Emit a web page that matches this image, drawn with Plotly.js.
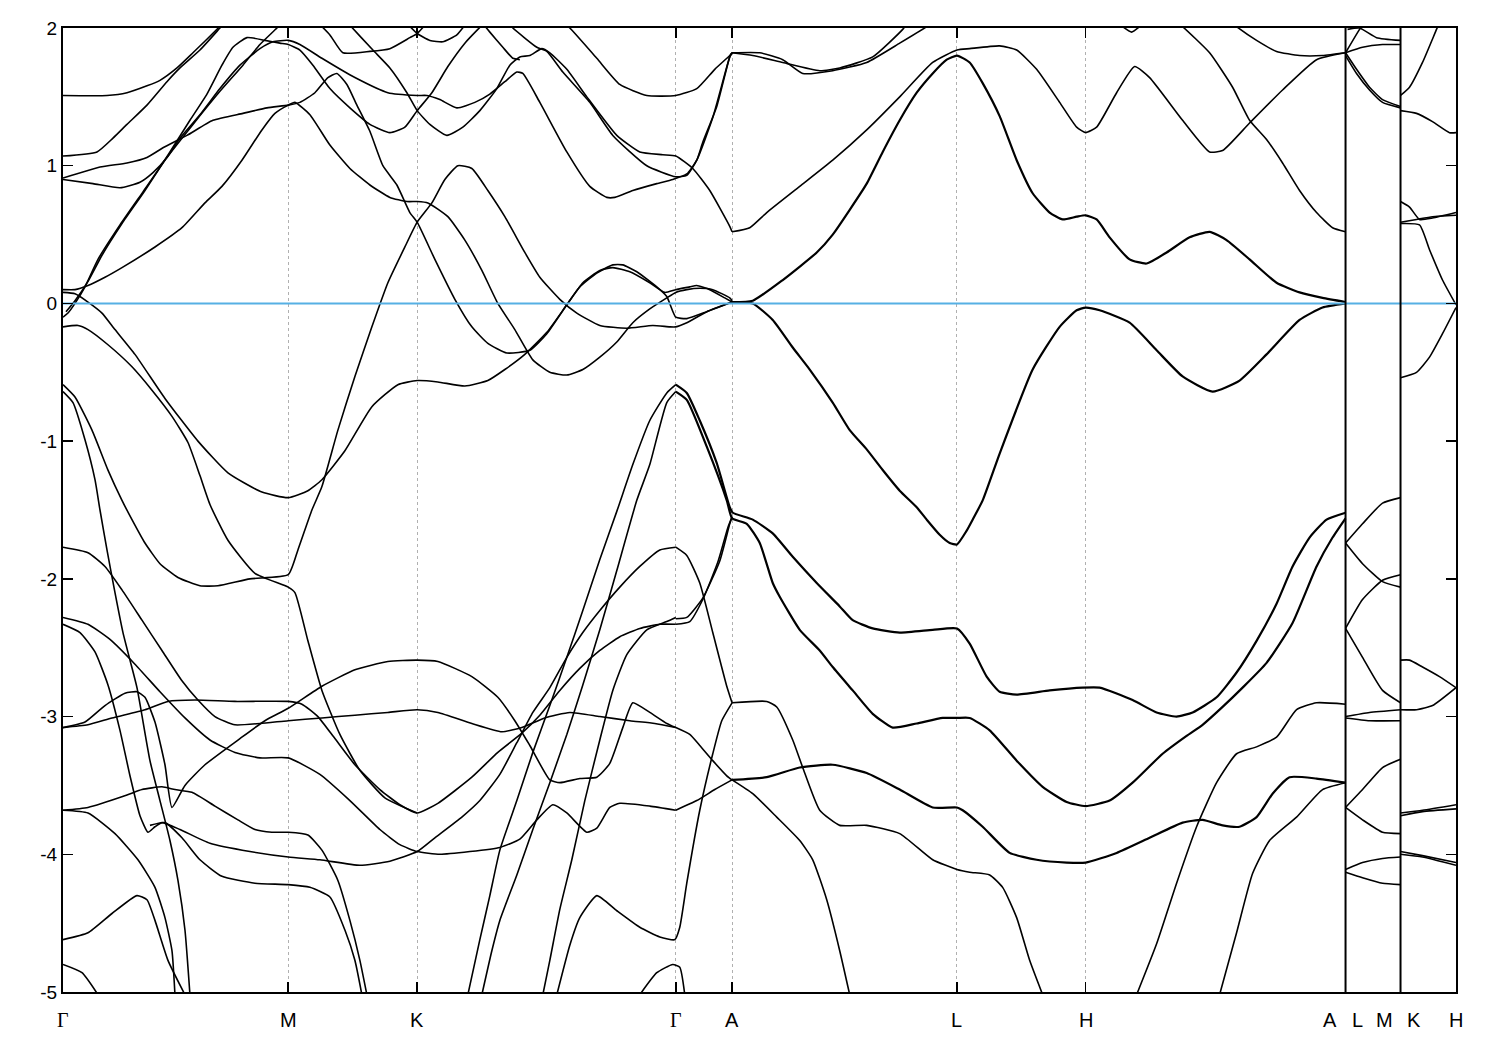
<!DOCTYPE html>
<html><head><meta charset="utf-8">
<script src="https://cdn.plot.ly/plotly-3.0.1.min.js"></script>
<style>body{margin:0;background:#fff}#plot{width:1500px;height:1050px}</style>
</head><body><div id="plot"></div>
<script>
// high-symmetry positions along the k-path
const kSym = [0, 2.253, 3.543, 6.13, 6.693, 8.943, 10.23, 12.83, 13.38, 13.935];
const gridK = [2.253, 3.543, 6.13, 6.693, 8.943, 10.23];
const breakK = [12.83, 13.38];
const xLabels = ['Γ','M','K','Γ','A','L','H','A','L','M','K','H'];
const xLabelPos = [0, 2.253, 3.543, 6.13, 6.693, 8.943, 10.23, 12.67, 12.95, 13.22, 13.51, 13.935];
const yTickVals = [-5,-4,-3,-2,-1,0,1,2];
const yTickText = ['-5','-4','-3','-2','-1','0','1','2'];
const fermi = 0;

// bands: [k, E(eV)]
const bGMa = [[0,1.51],[0.44,1.51],[0.64,1.53],[0.84,1.58],[0.97,1.62],[1.14,1.71],[1.30,1.82],[1.54,1.99],[1.61,2.04]];
const bGMb = [[0,1.07],[0.34,1.10],[0.50,1.20],[0.64,1.30],[0.84,1.44],[1.04,1.61],[1.17,1.71],[1.37,1.84],[1.57,2.00],[1.62,2.04]];
const bGMc = [[0,0.91],[0.37,0.99],[0.64,1.02],[0.84,1.06],[1.00,1.13],[1.24,1.22],[1.50,1.33],[1.80,1.38],[2.04,1.42],[2.253,1.44],
  [2.37,1.46],[2.52,1.53],[2.65,1.64],[2.74,1.67],[2.84,1.59],[2.94,1.44],[3.07,1.25],[3.20,1.00],[3.34,0.86],[3.47,0.66],[3.543,0.59],
  [3.72,0.32],[3.92,0.03],[4.09,-0.17],[4.25,-0.29],[4.44,-0.36],[4.67,-0.34],[4.84,-0.22],[5.04,-0.01],[5.17,0.12],[5.34,0.22],[5.50,0.28],[5.60,0.28],[5.74,0.23],[5.94,0.12],[6.04,0.05],[6.13,-0.10],
  [6.24,-0.11],[6.44,-0.06],[6.693,0.01]];
const bGMd = [[0,0.90],[0.30,0.87],[0.57,0.84],[0.77,0.88],[0.90,0.95],[1.04,1.06],[1.17,1.20],[1.37,1.37],[1.57,1.56],[1.77,1.73],[1.97,1.85],[2.10,1.90],[2.253,1.91],
  [2.37,1.88],[2.59,1.78],[2.92,1.64],[3.25,1.53],[3.543,1.51],[3.64,1.51],[3.77,1.48],[3.94,1.42],[4.12,1.46],[4.27,1.52],[4.42,1.61],[4.54,1.68],[4.60,1.67],
  [4.77,1.46],[5.04,1.10],[5.27,0.85],[5.44,0.77],[5.52,0.77],[5.70,0.82],[5.94,0.87],[6.10,0.90],[6.24,0.94],[6.34,1.04],[6.50,1.35],[6.67,1.79],[6.693,1.82]];
const bGMe = [[0,-0.10],[0.05,-0.07],[0.12,0.00],[0.22,0.12],[0.35,0.32],[0.57,0.57],[0.80,0.81],[1.04,1.06],[1.30,1.30],[1.57,1.54],[1.80,1.73],[1.97,1.88],[2.14,2.00],[2.19,2.04]];
const bGMf = [[0.03,-0.06],[0.12,0.02],[0.25,0.16],[0.39,0.35],[0.59,0.58],[0.82,0.82],[1.07,1.10],[1.27,1.33],[1.44,1.52],[1.59,1.73],[1.70,1.86],[1.84,1.93],[2.02,1.91],[2.17,1.89],[2.253,1.88],
  [2.37,1.84],[2.50,1.73],[2.67,1.56],[2.87,1.42],[3.07,1.30],[3.27,1.24],[3.42,1.28],[3.543,1.40],[3.69,1.53],[3.85,1.72],[4.02,1.89],[4.15,1.99],[4.22,2.04]];
const bGMg = [[0,0.10],[0.12,0.10],[0.25,0.13],[0.42,0.19],[0.59,0.26],[0.92,0.41],[1.19,0.55],[1.42,0.73],[1.59,0.85],[1.79,1.04],[1.99,1.26],[2.12,1.38],[2.253,1.44],
  [2.32,1.46],[2.47,1.37],[2.67,1.15],[2.87,0.98],[3.07,0.86],[3.27,0.77],[3.44,0.74],[3.543,0.74],
  [3.65,0.73],[3.85,0.63],[4.02,0.46],[4.19,0.24],[4.35,0.00],[4.52,-0.19],[4.70,-0.41],[4.87,-0.50],[5.04,-0.52],[5.20,-0.48],[5.37,-0.39],[5.54,-0.28],[5.70,-0.14],[5.87,-0.04],[6.04,0.04],[6.13,0.08],
  [6.24,0.10],[6.37,0.11],[6.50,0.10],[6.67,0.04],[6.693,0.02]];
const bGMh = [[0,0.08],[0.12,0.07],[0.25,0.01],[0.39,-0.07],[0.52,-0.19],[0.72,-0.37],[1.02,-0.69],[1.35,-1.00],[1.65,-1.23],[1.99,-1.37],[2.253,-1.41],
  [2.45,-1.36],[2.59,-1.28],[2.82,-1.07],[3.09,-0.75],[3.35,-0.59],[3.543,-0.56],
  [3.75,-0.57],[4.02,-0.60],[4.25,-0.56],[4.42,-0.48],[4.62,-0.37],[4.84,-0.21],[5.04,-0.01],[5.20,0.15],[5.37,0.24],[5.50,0.26],[5.67,0.23],[5.87,0.15],[6.02,0.08],[6.13,0.10],
  [6.27,0.12],[6.34,0.13],[6.47,0.10],[6.62,0.04],[6.693,0.01]];
const bGMi = [[0,-0.17],[0.15,-0.16],[0.25,-0.19],[0.45,-0.30],[0.69,-0.46],[0.89,-0.63],[1.09,-0.82],[1.25,-1.01],[1.37,-1.25],[1.47,-1.46],[1.65,-1.72],[1.92,-1.96],[2.253,-2.06],
  [2.32,-2.10],[2.45,-2.45],[2.59,-2.81],[2.77,-3.13],[2.97,-3.39],[3.22,-3.59],[3.543,-3.70]];
const bGMj = [[0,-0.59],[0.12,-0.68],[0.29,-0.92],[0.45,-1.21],[0.59,-1.43],[0.69,-1.57],[0.82,-1.74],[0.97,-1.89],[1.15,-1.99],[1.37,-2.05],[1.55,-2.05],[1.87,-2.00],[2.253,-1.97],
  [2.35,-1.79],[2.49,-1.50],[2.59,-1.33],[2.75,-0.92],[2.92,-0.53],[3.09,-0.17],[3.25,0.15],[3.42,0.41],[3.543,0.59],
  [3.69,0.73],[3.82,0.90],[3.95,1.00],[4.09,0.98],[4.25,0.82],[4.42,0.63],[4.62,0.37],[4.77,0.19],[4.97,0.03],[5.14,-0.07],[5.37,-0.16],[5.64,-0.18],[5.90,-0.16],[6.07,-0.17],[6.13,-0.17],
  [6.24,-0.14],[6.44,-0.06],[6.693,0.01]];
const bGMk = [[0,-0.64],[0.10,-0.72],[0.22,-0.99],[0.32,-1.28],[0.37,-1.50],[0.44,-1.79],[0.52,-2.10],[0.60,-2.39],[0.67,-2.59],[0.74,-2.79],[0.87,-3.32],[0.97,-3.61],[1.07,-3.90],[1.15,-4.19],[1.22,-4.55],[1.27,-5.02]];
const bLG1 = [[0,-1.77],[0.25,-1.81],[0.42,-1.91],[0.59,-2.08],[0.79,-2.30],[0.99,-2.52],[1.19,-2.74],[1.35,-2.88],[1.52,-3.00],[1.72,-3.06],[1.97,-3.05],[2.253,-3.03],
  [2.59,-3.01],[2.92,-2.99],[3.25,-2.97],[3.543,-2.95],[3.75,-2.97],[4.09,-3.05],[4.39,-3.11],[4.59,-3.08],[4.82,-3.01],[5.07,-2.97],[5.37,-3.00],[5.67,-3.03],[5.92,-3.05],[6.13,-3.08]];
const bLG2 = [[0,-2.28],[0.25,-2.33],[0.47,-2.44],[0.72,-2.62],[0.97,-2.82],[1.22,-3.01],[1.47,-3.17],[1.72,-3.26],[1.97,-3.30],[2.253,-3.30],
  [2.57,-3.42],[2.87,-3.61],[3.17,-3.82],[3.37,-3.93],[3.543,-3.98],
  [3.77,-4.00],[4.07,-3.98],[4.37,-3.95],[4.57,-3.89],[4.74,-3.75],[4.90,-3.64],[5.04,-3.70],[5.24,-3.84],[5.34,-3.81],[5.47,-3.66],[5.57,-3.63],[5.87,-3.65],[6.13,-3.68]];
const bLG3 = [[0,-2.33],[0.17,-2.39],[0.32,-2.53],[0.45,-2.77],[0.57,-3.10],[0.67,-3.43],[0.77,-3.72],[0.85,-3.84],[0.92,-3.80],[0.99,-3.77],[1.17,-3.82],[1.47,-3.92],[1.87,-3.98],[2.253,-4.02],
  [2.57,-4.04],[2.97,-4.08],[3.27,-4.05],[3.543,-3.98],
  [3.72,-3.88],[3.99,-3.73],[4.17,-3.61],[4.37,-3.42],[4.54,-3.19],[4.70,-2.97],[4.87,-2.79],[5.04,-2.57],[5.20,-2.39],[5.37,-2.23],[5.57,-2.06],[5.77,-1.91],[5.97,-1.79],[6.13,-1.77]];
const bLG4 = [[0,-3.08],[0.22,-3.04],[0.42,-2.92],[0.62,-2.83],[0.74,-2.82],[0.82,-2.86],[0.92,-3.04],[1.02,-3.35],[1.09,-3.66],[1.22,-3.50],[1.42,-3.35],[1.77,-3.16],[2.02,-3.03],[2.253,-2.94],
  [2.59,-2.78],[2.92,-2.66],[3.25,-2.60],[3.543,-2.59],[3.75,-2.60],[4.09,-2.71],[4.35,-2.86],[4.52,-3.03],[4.67,-3.21],[4.87,-3.46],[4.97,-3.48],[5.17,-3.45],[5.34,-3.44],[5.47,-3.34],[5.60,-3.08],[5.70,-2.90],[5.87,-2.97],[6.04,-3.05],[6.13,-3.08]];
const bLG5 = [[0,-3.08],[0.25,-3.06],[0.49,-3.01],[0.82,-2.95],[1.05,-2.89],[1.32,-2.88],[1.72,-2.89],[2.253,-2.89],
  [2.39,-2.91],[2.55,-3.00],[2.72,-3.16],[2.92,-3.35],[3.17,-3.53],[3.37,-3.64],[3.543,-3.70],
  [3.75,-3.63],[4.09,-3.44],[4.35,-3.26],[4.59,-3.12],[4.77,-2.99],[4.97,-2.81],[5.17,-2.65],[5.37,-2.52],[5.57,-2.42],[5.77,-2.36],[5.97,-2.33],[6.13,-2.33]];
const bLG7 = [[0,-3.68],[0.25,-3.66],[0.64,-3.57],[0.79,-3.53],[0.99,-3.51],[1.12,-3.53],[1.29,-3.55],[1.52,-3.65],[1.75,-3.75],[1.92,-3.82],[2.09,-3.84],[2.253,-3.84],
  [2.45,-3.86],[2.59,-3.97],[2.75,-4.19],[2.87,-4.48],[2.97,-4.77],[3.04,-5.02]];
const bLG8 = [[0,-3.68],[0.25,-3.70],[0.52,-3.85],[0.75,-4.04],[0.92,-4.24],[1.02,-4.46],[1.09,-4.70],[1.12,-5.02]];
const bLG9 = [[0,-4.62],[0.25,-4.57],[0.49,-4.43],[0.74,-4.30],[0.84,-4.33],[0.92,-4.48],[1.05,-4.77],[1.22,-5.02]];
const bLG10 = [[0,-4.80],[0.19,-4.86],[0.35,-5.02]];
const bLG11 = [[0.87,-3.79],[1.02,-3.77],[1.19,-3.88],[1.37,-4.04],[1.59,-4.16],[1.92,-4.21],[2.253,-4.22],[2.47,-4.24],[2.67,-4.31],[2.82,-4.55],[2.92,-4.77],[2.99,-5.02]];
const bSGa = [[4.05,-5.02],[4.17,-4.62],[4.27,-4.30],[4.37,-3.97],[4.54,-3.61],[4.70,-3.26],[4.87,-2.92],[5.04,-2.57],[5.20,-2.23],[5.37,-1.86],[5.54,-1.51],[5.70,-1.17],[5.87,-0.85],[6.04,-0.65],[6.13,-0.59]];
const bSGb = [[4.19,-5.02],[4.29,-4.70],[4.37,-4.48],[4.54,-4.15],[4.70,-3.82],[4.87,-3.48],[5.04,-3.13],[5.20,-2.77],[5.37,-2.37],[5.54,-1.94],[5.74,-1.43],[5.87,-1.17],[6.04,-0.72],[6.13,-0.64]];
const bSGc = [[4.80,-5.02],[4.87,-4.77],[4.97,-4.40],[5.09,-4.04],[5.22,-3.61],[5.37,-3.17],[5.50,-2.81],[5.64,-2.55],[5.84,-2.37],[6.04,-2.31],[6.13,-2.28]];
const bSGpk = [[4.94,-5.02],[5.07,-4.66],[5.17,-4.46],[5.34,-4.30],[5.54,-4.41],[5.77,-4.53],[5.97,-4.60],[6.12,-4.62],[6.17,-4.53],[6.24,-4.21],[6.37,-3.68],[6.50,-3.27],[6.59,-3.03],[6.693,-2.90]];
const bSGlow = [[5.77,-5.02],[5.94,-4.86],[6.10,-4.80],[6.17,-4.82],[6.22,-5.02]];
const bGA3 = [[6.13,-3.08],[6.27,-3.13],[6.37,-3.21],[6.50,-3.32],[6.64,-3.43],[6.693,-3.46]];
const bGA4 = [[6.13,-3.68],[6.34,-3.61],[6.52,-3.53],[6.693,-3.46]];
const bTopA1 = [[2.55,2.04],[2.67,1.95],[2.80,1.82],[3.07,1.83],[3.27,1.85],[3.47,1.93],[3.543,1.96],[3.62,2.02],[3.66,2.05]];
const bTopA2 = [[3.42,2.05],[3.543,1.96],[3.67,1.91],[3.80,1.90],[3.94,1.95],[4.02,2.02],[4.06,2.05]];
const bXtop = [[2.82,2.06],[2.87,2.02],[3.10,1.84],[3.27,1.71],[3.44,1.53],[3.543,1.40],[3.67,1.30],[3.84,1.22],[4.00,1.28],[4.17,1.40],[4.34,1.56],[4.47,1.73],[4.57,1.79],[4.67,1.80],[4.79,1.85],[4.87,1.82],
  [5.04,1.70],[5.24,1.50],[5.54,1.22],[5.77,1.10],[6.00,1.08],[6.13,1.07],[6.30,0.98],[6.47,0.82],[6.67,0.56],[6.693,0.52]];
const bKG150 = [[4.97,2.06],[5.07,2.00],[5.34,1.78],[5.57,1.59],[5.84,1.51],[6.13,1.51],[6.34,1.56],[6.52,1.70],[6.67,1.80],[6.693,1.82]];
const bKG092 = [[4.45,2.04],[4.50,2.00],[4.74,1.86],[4.84,1.83],[5.00,1.68],[5.27,1.46],[5.50,1.22],[5.84,1.00],[6.13,0.92],[6.24,0.93],[6.34,1.04],[6.40,1.17],[6.54,1.43],[6.67,1.79],[6.693,1.82]];
const bKGtop = [[4.17,2.06],[4.27,1.97],[4.40,1.86],[4.50,1.78],[4.57,1.77]];
const bAL1 = [[6.693,1.82],[6.97,1.82],[7.20,1.77],[7.40,1.67],[7.70,1.69],[8.04,1.75],[8.37,1.89],[8.64,2.01],[8.69,2.04]];
const bAL2 = [[6.693,1.82],[6.90,1.80],[7.20,1.75],[7.57,1.69],[7.77,1.71],[8.10,1.79],[8.40,1.99],[8.45,2.04]];
const bAL3 = [[6.693,0.52],[6.87,0.55],[7.04,0.66],[7.37,0.85],[7.70,1.04],[8.04,1.26],[8.37,1.50],[8.70,1.75],[8.943,1.84],
  [9.07,1.85],[9.37,1.87],[9.54,1.84],[9.74,1.70],[9.97,1.46],[10.14,1.28],[10.23,1.24],[10.34,1.28],[10.54,1.53],[10.72,1.72],[10.87,1.64],[11.20,1.33],[11.47,1.10],[11.60,1.11],[11.87,1.31],[12.20,1.55],[12.54,1.77],[12.83,1.82]];
const bAL4 = [[6.693,0.01],[6.90,0.02],[7.20,0.17],[7.54,0.37],[7.70,0.50],[7.87,0.68],[8.04,0.87],[8.20,1.10],[8.37,1.33],[8.54,1.53],[8.70,1.67],[8.84,1.77],[8.943,1.80],
  [9.07,1.75],[9.20,1.60],[9.37,1.36],[9.54,1.04],[9.70,0.80],[9.87,0.66],[10.00,0.61],[10.14,0.63],[10.23,0.64],[10.34,0.61],[10.47,0.48],[10.67,0.32],[10.84,0.29],[11.04,0.37],[11.27,0.48],[11.47,0.52],[11.64,0.46],[11.87,0.32],[12.14,0.15],[12.37,0.08],[12.60,0.04],[12.83,0.01]];
const bAL5 = [[6.693,0.01],[6.90,0.00],[7.10,-0.12],[7.30,-0.32],[7.47,-0.48],[7.70,-0.72],[7.87,-0.92],[8.04,-1.06],[8.20,-1.21],[8.37,-1.36],[8.54,-1.48],[8.64,-1.57],[8.77,-1.68],[8.87,-1.74],[8.943,-1.75],
  [9.04,-1.65],[9.10,-1.57],[9.20,-1.43],[9.37,-1.09],[9.70,-0.48],[9.97,-0.17],[10.14,-0.05],[10.23,-0.03],[10.37,-0.05],[10.67,-0.14],[10.94,-0.34],[11.20,-0.53],[11.50,-0.64],[11.77,-0.56],[12.04,-0.37],[12.37,-0.12],[12.60,-0.03],[12.83,0.00]];
const bHA1 = [[10.55,2.04],[10.60,2.01],[10.69,1.97],[10.77,2.01],[10.82,2.04]];
const bHA2 = [[11.15,2.04],[11.20,2.01],[11.47,1.82],[11.70,1.57],[11.87,1.33],[12.04,1.19],[12.20,1.02],[12.37,0.82],[12.54,0.66],[12.70,0.55],[12.83,0.52]];
const bHA3 = [[11.69,2.04],[11.74,2.01],[11.94,1.91],[12.14,1.83],[12.37,1.80],[12.60,1.80],[12.83,1.82]];
const bLM1 = [[12.83,1.82],[12.97,1.99],[13.02,2.04]];
const bLM2 = [[12.83,1.82],[13.00,1.86],[13.20,1.88],[13.38,1.88]];
const bLM3 = [[12.85,1.99],[12.97,2.00],[13.14,1.93],[13.38,1.91]];
const bLM4 = [[12.83,1.82],[12.94,1.70],[13.07,1.57],[13.20,1.48],[13.38,1.43]];
const bLM5 = [[12.83,1.80],[12.94,1.67],[13.07,1.55],[13.20,1.46],[13.38,1.42]];
const bKH1 = [[13.38,1.51],[13.47,1.57],[13.60,1.75],[13.74,1.99],[13.77,2.04]];
const bKH2 = [[13.38,1.40],[13.54,1.38],[13.70,1.32],[13.87,1.24],[13.935,1.24]];
const bKH3 = [[13.38,0.74],[13.47,0.70],[13.57,0.61],[13.70,0.62],[13.935,0.66]];
const bKH4 = [[13.38,0.59],[13.54,0.61],[13.70,0.63],[13.935,0.64]];
const bKH5 = [[13.38,0.58],[13.57,0.57],[13.67,0.39],[13.80,0.17],[13.935,-0.01]];
const bKH6 = [[13.38,-0.54],[13.54,-0.50],[13.67,-0.39],[13.80,-0.22],[13.935,-0.03]];
const bLMl1 = [[12.83,-1.74],[13.00,-1.60],[13.20,-1.45],[13.38,-1.41]];
const bLMl2 = [[12.83,-1.74],[13.00,-1.89],[13.20,-2.02],[13.38,-2.06]];
const bLMl3 = [[12.83,-2.36],[13.00,-2.15],[13.20,-2.01],[13.38,-1.97]];
const bLMl4 = [[12.83,-2.36],[13.00,-2.57],[13.20,-2.81],[13.38,-2.90]];
const bLMl5 = [[12.83,-3.00],[13.07,-2.97],[13.38,-2.95]];
const bLMl6 = [[12.83,-3.01],[13.07,-3.03],[13.38,-3.03]];
const bLMl7 = [[12.83,-3.66],[13.00,-3.53],[13.20,-3.37],[13.38,-3.31]];
const bLMl8 = [[12.83,-3.66],[13.00,-3.75],[13.20,-3.84],[13.38,-3.85]];
const bLMl9 = [[12.83,-4.11],[13.00,-4.06],[13.20,-4.03],[13.38,-4.02]];
const bLMl10 = [[12.83,-4.13],[13.00,-4.17],[13.20,-4.21],[13.38,-4.22]];
const bKHl1 = [[13.38,-2.59],[13.47,-2.59],[13.60,-2.64],[13.77,-2.71],[13.935,-2.79]];
const bKHl2 = [[13.38,-2.95],[13.54,-2.95],[13.70,-2.92],[13.935,-2.79]];
const bKHl3 = [[13.38,-3.70],[13.60,-3.68],[13.935,-3.64]];
const bKHl3b = [[13.38,-3.72],[13.60,-3.69],[13.935,-3.67]];
const bKHl4 = [[13.38,-3.98],[13.60,-4.01],[13.935,-4.06]];
const bKHl4b = [[13.38,-4.00],[13.60,-4.02],[13.935,-4.08]];
const bALl1 = [[6.13,-0.59],[6.24,-0.65],[6.37,-0.85],[6.54,-1.16],[6.67,-1.48],[6.70,-1.52],[6.90,-1.57],[7.10,-1.67],[7.30,-1.84],[7.54,-2.03],[7.77,-2.20],[7.90,-2.30],[8.10,-2.36],[8.37,-2.39],[8.70,-2.37],[8.943,-2.36],
  [9.07,-2.47],[9.24,-2.71],[9.37,-2.82],[9.54,-2.84],[9.87,-2.81],[10.20,-2.79],[10.37,-2.79],[10.70,-2.88],[10.94,-2.97],[11.14,-3.00],[11.30,-2.97],[11.54,-2.86],[11.74,-2.68],[11.94,-2.45],[12.14,-2.18],[12.30,-1.91],[12.47,-1.70],[12.64,-1.57],[12.83,-1.52]];
const bALl2 = [[6.13,-0.64],[6.24,-0.70],[6.44,-1.04],[6.64,-1.43],[6.693,-1.56],[6.84,-1.60],[6.97,-1.74],[7.10,-2.03],[7.17,-2.13],[7.37,-2.37],[7.57,-2.52],[7.70,-2.64],[7.90,-2.81],[8.10,-2.98],[8.30,-3.08],[8.54,-3.05],[8.80,-3.01],[8.943,-3.01],
  [9.07,-3.01],[9.27,-3.10],[9.54,-3.32],[9.80,-3.51],[10.04,-3.62],[10.23,-3.65],[10.47,-3.61],[10.70,-3.48],[11.00,-3.27],[11.24,-3.14],[11.40,-3.06],[11.60,-2.93],[11.80,-2.79],[12.04,-2.61],[12.30,-2.32],[12.54,-1.91],[12.70,-1.70],[12.83,-1.56]];
const bALl3 = [[6.693,-2.90],[7.04,-2.89],[7.14,-2.93],[7.30,-3.17],[7.40,-3.37],[7.57,-3.68],[7.77,-3.79],[8.04,-3.79],[8.37,-3.85],[8.70,-4.04],[8.943,-4.11],[9.07,-4.13],[9.27,-4.15],[9.40,-4.24],[9.54,-4.46],[9.67,-4.77],[9.80,-5.02]];
const bALl4 = [[6.693,-3.46],[7.04,-3.44],[7.37,-3.37],[7.70,-3.35],[8.04,-3.41],[8.37,-3.53],[8.70,-3.66],[8.943,-3.66],[9.00,-3.68],[9.20,-3.80],[9.47,-3.99],[9.74,-4.04],[10.04,-4.06],[10.23,-4.06],
  [10.54,-3.99],[10.87,-3.88],[11.20,-3.77],[11.40,-3.75],[11.60,-3.79],[11.77,-3.80],[11.94,-3.73],[12.10,-3.56],[12.27,-3.44],[12.54,-3.45],[12.83,-3.48]];
const bALl5 = [[6.693,-3.46],[6.90,-3.56],[7.14,-3.73],[7.37,-3.90],[7.50,-4.04],[7.64,-4.33],[7.77,-4.70],[7.87,-5.02]];
const bHAl1 = [[10.74,-5.02],[10.94,-4.65],[11.14,-4.21],[11.34,-3.80],[11.54,-3.48],[11.74,-3.27],[11.94,-3.22],[12.14,-3.15],[12.34,-2.95],[12.54,-2.90],[12.83,-2.91]];
const bHAl2 = [[11.57,-5.02],[11.74,-4.57],[11.90,-4.14],[12.07,-3.90],[12.34,-3.73],[12.60,-3.53],[12.83,-3.48]];
const bGAl1 = [[6.13,-1.77],[6.24,-1.83],[6.37,-2.03],[6.50,-2.39],[6.64,-2.78],[6.693,-2.90]];
const bGAl2 = [[6.13,-2.29],[6.24,-2.28],[6.40,-2.14],[6.57,-1.87],[6.67,-1.60],[6.693,-1.55]];
const bGAl2b = [[6.13,-2.33],[6.27,-2.31],[6.40,-2.15],[6.55,-1.88],[6.65,-1.63],[6.693,-1.55]];

const bands = [bGMa,bGMb,bGMc,bGMd,bGMe,bGMf,bGMg,bGMh,bGMi,bGMj,bGMk,bLG1,bLG2,bLG3,bLG4,bLG5,bLG7,bLG8,bLG9,bLG10,bLG11,
  bSGa,bSGb,bSGc,bSGpk,bSGlow,bGA3,bGA4,bTopA1,bTopA2,bXtop,bKG150,bKG092,bKGtop,
  bAL1,bAL2,bAL3,bHA1,bHA2,bHA3,bLM1,bLM2,bLM3,bLM4,bLM5,bKH1,bKH2,bKH3,bKH4,bKH5,bKH6,
  bLMl1,bLMl2,bLMl3,bLMl4,bLMl5,bLMl6,bLMl7,bLMl8,bLMl9,bLMl10,bKHl1,bKHl2,bKHl3,bKHl3b,bKHl4,bKHl4b,
  bALl3,bALl5,bHAl1,bHAl2,bGAl1,bGAl2,bGAl2b];
// nearly degenerate (spin-split) bands drawn slightly heavier, as in the original
const heavyBands = [bAL4, bAL5, bALl1, bALl2, bALl4];

const mk = (b, w) => ({
  x: b.map(p => p[0]), y: b.map(p => p[1]), type: 'scatter', mode: 'lines',
  line: {color: '#000', width: w, shape: 'spline', smoothing: 0.5},
  hoverinfo: 'skip', showlegend: false
});
const traces = bands.map(b => mk(b, 1.6)).concat(heavyBands.map(b => mk(b, 2.2)));
traces.push({x: [kSym[0], kSym[kSym.length-1]], y: [fermi, fermi], type: 'scatter', mode: 'lines',
  line: {color: '#56b0e4', width: 2}, hoverinfo: 'skip', showlegend: false});

const shapes = breakK.map(k => ({type: 'line', xref: 'x', yref: 'paper', x0: k, x1: k, y0: 0, y1: 1,
  line: {color: '#000', width: 2}}));

const annotations = xLabels.map((t, i) => ({
  x: xLabelPos[i], xref: 'x', y: 0, yref: 'paper', yanchor: 'middle', yshift: -28,
  text: t, showarrow: false,
  font: {family: t === 'Γ' ? 'Liberation Serif, serif' : 'Liberation Sans, Arial, sans-serif', size: 20, color: '#000'}
}));

const layout = {
  width: 1500, height: 1050,
  margin: {l: 63, r: 44, t: 28, b: 58},
  paper_bgcolor: '#fff', plot_bgcolor: '#fff',
  font: {family: 'Liberation Sans, Arial, sans-serif', size: 19, color: '#000'},
  showlegend: false,
  xaxis: {range: [kSym[0], kSym[kSym.length-1]], tickvals: gridK, showticklabels: false,
    ticks: 'inside', ticklen: 10, tickwidth: 1.5, tickcolor: '#000',
    showgrid: true, gridcolor: '#b0b0b0', gridwidth: 1, griddash: '3px,3px',
    showline: true, linecolor: '#000', linewidth: 2, mirror: 'allticks', zeroline: false},
  yaxis: {range: [-5, 2], tickvals: yTickVals, ticktext: yTickText,
    ticks: 'inside', ticklen: 10, tickwidth: 1.5, tickcolor: '#000',
    showgrid: false, showline: true, linecolor: '#000', linewidth: 2, mirror: 'allticks', zeroline: false,
    tickfont: {size: 19}},
  shapes: shapes,
  annotations: annotations
};
Plotly.newPlot('plot', traces, layout, {staticPlot: true});
</script></body></html>
